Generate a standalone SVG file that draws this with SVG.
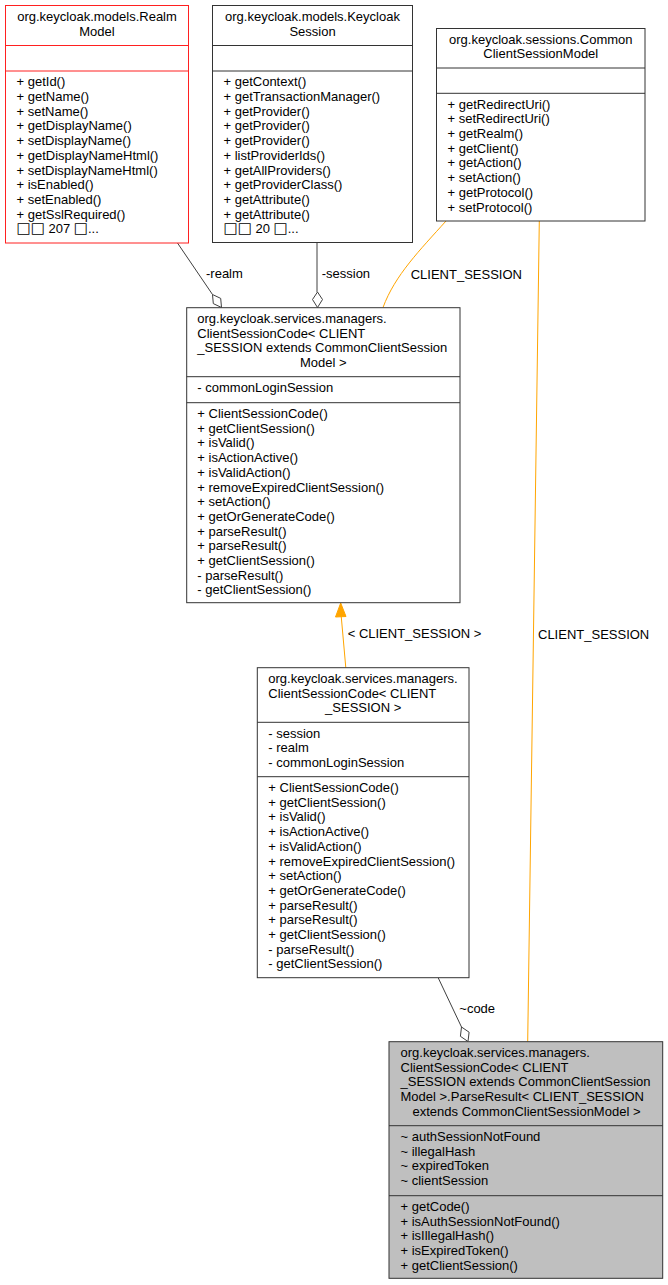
<svg xmlns="http://www.w3.org/2000/svg" width="668" height="1285" viewBox="0 0 668 1285">
<style>
text{font-family:"Liberation Sans",Arial,"DejaVu Sans",sans-serif;font-size:13px;fill:#000}
.c{text-anchor:middle}
.tofu{font-family:"DejaVu Sans",sans-serif;font-size:15px}
.box{fill:#fff;stroke:#333;stroke-width:1}
.red{fill:#fff;stroke:#ff2020;stroke-width:1}
.sel{fill:#bfbfbf;stroke:#333;stroke-width:1}
.sep{stroke:#333;stroke-width:1}
.sepr{stroke:#ff2020;stroke-width:1}
.e{fill:none;stroke:#404040;stroke-width:1}
.o{fill:none;stroke:#ffa500;stroke-width:1}
.dia{fill:#fff;stroke:#404040;stroke-width:1}
.arr{fill:#ffa500;stroke:#ffa500;stroke-width:1}
</style>
<rect width="668" height="1285" fill="#fff"/>
<g id="connectors">
<path class="e" d="M177.5,243 L212.5,294.5"/>
<polygon class="dia" points="212.5,294.5 220.7,298.4 221.5,307.5 213.3,303.6"/>
<text x="206" y="278.3">-realm</text>
<path class="e" d="M317,242.5 L317,292"/>
<polygon class="dia" points="317.5,292 322.5,299.5 317.5,307.5 312.5,299.5"/>
<text x="321.7" y="278.3">-session</text>
<path class="o" d="M446,221 C420,250 395,275 383,307.5"/>
<text x="410.7" y="279">CLIENT_SESSION</text>
<path class="o" d="M539.3,221 L527.7,1041.7"/>
<text x="538" y="638.5">CLIENT_SESSION</text>
<path class="o" d="M345.8,667.7 L341.2,616"/>
<polygon class="arr" points="340.7,603 346,616.5 335.5,617"/>
<text x="347.7" y="638.3">&lt; CLIENT_SESSION &gt;</text>
<path class="e" d="M438.3,978 L461.5,1027"/>
<polygon class="dia" points="461.5,1027 469.1,1032.2 468,1041.5 460.4,1036.3"/>
<text x="459.3" y="1012.7">~code</text>
</g>
<g id="realmModel">
<rect class="red" x="5.5" y="5.5" width="183" height="237.5"/>
<line class="sepr" x1="5.5" y1="45.5" x2="188.5" y2="45.5"/>
<line class="sepr" x1="5.5" y1="71" x2="188.5" y2="71"/>
<text class="c" x="97" y="21">org.keycloak.models.Realm</text>
<text class="c" x="97" y="35.7">Model</text>
<text x="16.5" y="86.3">+ getId()</text>
<text x="16.5" y="101">+ getName()</text>
<text x="16.5" y="115.7">+ setName()</text>
<text x="16.5" y="130.4">+ getDisplayName()</text>
<text x="16.5" y="145.1">+ setDisplayName()</text>
<text x="16.5" y="159.8">+ getDisplayNameHtml()</text>
<text x="16.5" y="174.5">+ setDisplayNameHtml()</text>
<text x="16.5" y="189.2">+ isEnabled()</text>
<text x="16.5" y="203.9">+ setEnabled()</text>
<text x="16.5" y="218.6">+ getSslRequired()</text>
<text x="16.5" y="233.3"><tspan class="tofu">□□</tspan> 207 <tspan class="tofu">□</tspan>...</text>
</g>
<g id="keycloakSession">
<rect class="box" x="212.5" y="5.5" width="200" height="237"/>
<line class="sep" x1="212.5" y1="45.5" x2="412.5" y2="45.5"/>
<line class="sep" x1="212.5" y1="71" x2="412.5" y2="71"/>
<text class="c" x="312.5" y="21">org.keycloak.models.Keycloak</text>
<text class="c" x="312.5" y="35.7">Session</text>
<text x="223.5" y="86.3">+ getContext()</text>
<text x="223.5" y="101">+ getTransactionManager()</text>
<text x="223.5" y="115.7">+ getProvider()</text>
<text x="223.5" y="130.4">+ getProvider()</text>
<text x="223.5" y="145.1">+ getProvider()</text>
<text x="223.5" y="159.8">+ listProviderIds()</text>
<text x="223.5" y="174.5">+ getAllProviders()</text>
<text x="223.5" y="189.2">+ getProviderClass()</text>
<text x="223.5" y="203.9">+ getAttribute()</text>
<text x="223.5" y="218.6">+ getAttribute()</text>
<text x="223.5" y="233.3"><tspan class="tofu">□□</tspan> 20 <tspan class="tofu">□</tspan>...</text>
</g>
<g id="commonClientSessionModel">
<rect class="box" x="436.5" y="28.5" width="208.5" height="192.5"/>
<line class="sep" x1="436.5" y1="68" x2="645" y2="68"/>
<line class="sep" x1="436.5" y1="93.3" x2="645" y2="93.3"/>
<text class="c" x="540.8" y="43.6">org.keycloak.sessions.Common</text>
<text class="c" x="540.8" y="58.3">ClientSessionModel</text>
<text x="447.5" y="108.6">+ getRedirectUri()</text>
<text x="447.5" y="123.3">+ setRedirectUri()</text>
<text x="447.5" y="138">+ getRealm()</text>
<text x="447.5" y="152.7">+ getClient()</text>
<text x="447.5" y="167.4">+ getAction()</text>
<text x="447.5" y="182.1">+ setAction()</text>
<text x="447.5" y="196.8">+ getProtocol()</text>
<text x="447.5" y="211.5">+ setProtocol()</text>
</g>
<g id="clientSessionCodeExtends">
<rect class="box" x="186.7" y="307.7" width="273.3" height="295"/>
<line class="sep" x1="186.7" y1="376.7" x2="460" y2="376.7"/>
<line class="sep" x1="186.7" y1="402.7" x2="460" y2="402.7"/>
<text x="197.3" y="323">org.keycloak.services.managers.</text>
<text x="197.3" y="337.7">ClientSessionCode&lt; CLIENT</text>
<text x="197.3" y="352.4">_SESSION extends CommonClientSession</text>
<text class="c" x="323.3" y="367.1">Model &gt;</text>
<text x="197.3" y="392">- commonLoginSession</text>
<text x="197.3" y="418">+ ClientSessionCode()</text>
<text x="197.3" y="432.7">+ getClientSession()</text>
<text x="197.3" y="447.4">+ isValid()</text>
<text x="197.3" y="462.1">+ isActionActive()</text>
<text x="197.3" y="476.8">+ isValidAction()</text>
<text x="197.3" y="491.5">+ removeExpiredClientSession()</text>
<text x="197.3" y="506.2">+ setAction()</text>
<text x="197.3" y="520.9">+ getOrGenerateCode()</text>
<text x="197.3" y="535.6">+ parseResult()</text>
<text x="197.3" y="550.3">+ parseResult()</text>
<text x="197.3" y="565">+ getClientSession()</text>
<text x="197.3" y="579.7">- parseResult()</text>
<text x="197.3" y="594.4">- getClientSession()</text>
</g>
<g id="clientSessionCode">
<rect class="box" x="257.3" y="667.7" width="211.7" height="310"/>
<line class="sep" x1="257.3" y1="722.3" x2="469" y2="722.3"/>
<line class="sep" x1="257.3" y1="776.7" x2="469" y2="776.7"/>
<text x="268.3" y="683">org.keycloak.services.managers.</text>
<text x="268.3" y="697.7">ClientSessionCode&lt; CLIENT</text>
<text class="c" x="363.2" y="712.4">_SESSION &gt;</text>
<text x="268.3" y="737.6">- session</text>
<text x="268.3" y="752.3">- realm</text>
<text x="268.3" y="767">- commonLoginSession</text>
<text x="268.3" y="792">+ ClientSessionCode()</text>
<text x="268.3" y="806.7">+ getClientSession()</text>
<text x="268.3" y="821.4">+ isValid()</text>
<text x="268.3" y="836.1">+ isActionActive()</text>
<text x="268.3" y="850.8">+ isValidAction()</text>
<text x="268.3" y="865.5">+ removeExpiredClientSession()</text>
<text x="268.3" y="880.2">+ setAction()</text>
<text x="268.3" y="894.9">+ getOrGenerateCode()</text>
<text x="268.3" y="909.6">+ parseResult()</text>
<text x="268.3" y="924.3">+ parseResult()</text>
<text x="268.3" y="939">+ getClientSession()</text>
<text x="268.3" y="953.7">- parseResult()</text>
<text x="268.3" y="968.4">- getClientSession()</text>
</g>
<g id="parseResult">
<rect class="sel" x="389" y="1041.7" width="273.7" height="236.6"/>
<line class="sep" x1="389" y1="1125.7" x2="662.7" y2="1125.7"/>
<line class="sep" x1="389" y1="1195.7" x2="662.7" y2="1195.7"/>
<text x="400.5" y="1057">org.keycloak.services.managers.</text>
<text x="400.5" y="1071.7">ClientSessionCode&lt; CLIENT</text>
<text x="400.5" y="1086.4">_SESSION extends CommonClientSession</text>
<text x="400.5" y="1101.1">Model &gt;.ParseResult&lt; CLIENT_SESSION</text>
<text class="c" x="526.5" y="1115.8">extends CommonClientSessionModel &gt;</text>
<text x="400.5" y="1141">~ authSessionNotFound</text>
<text x="400.5" y="1155.7">~ illegalHash</text>
<text x="400.5" y="1170.4">~ expiredToken</text>
<text x="400.5" y="1185.1">~ clientSession</text>
<text x="400.5" y="1211">+ getCode()</text>
<text x="400.5" y="1225.7">+ isAuthSessionNotFound()</text>
<text x="400.5" y="1240.4">+ isIllegalHash()</text>
<text x="400.5" y="1255.1">+ isExpiredToken()</text>
<text x="400.5" y="1269.8">+ getClientSession()</text>
</g>
</svg>
